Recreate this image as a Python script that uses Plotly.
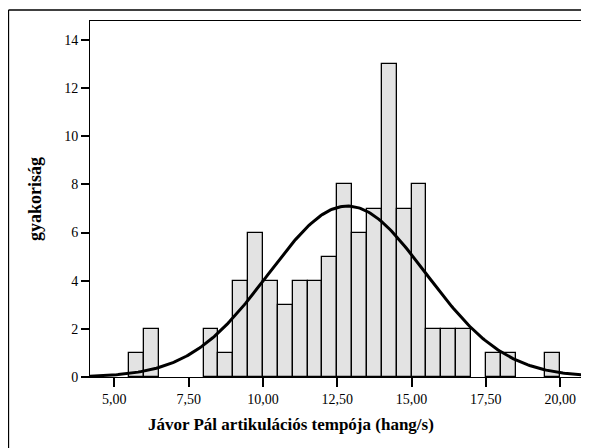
import numpy as np
import plotly.graph_objects as go

# histogram bins (left edges, width 0.5) and counts
bin_left = [5.5, 6.0, 8.0, 8.5, 9.0, 9.5, 10.0, 10.5, 11.0, 11.5, 12.0, 12.5,
            13.0, 13.5, 14.0, 14.5, 15.0, 15.5, 16.0, 16.5, 17.5, 18.0, 19.5]
counts = [1, 2, 2, 1, 4, 6, 4, 3, 4, 4, 5, 8,
          6, 7, 13, 7, 8, 2, 2, 2, 1, 1, 1]
bin_width = 0.5

# fitted normal curve parameters
fit_mean = 12.84
fit_sd = 2.64
n_total = sum(counts)

x_tickvals = [5.0, 7.5, 10.0, 12.5, 15.0, 17.5, 20.0]
x_ticktext = ["5,00", "7,50", "10,00", "12,50", "15,00", "17,50", "20,00"]
y_tickvals = [0, 2, 4, 6, 8, 10, 12, 14]

x_range = [4.18, 20.87]
y_range = [0, 14.79]

centers = [b + bin_width / 2 for b in bin_left]

xc = np.linspace(x_range[0], x_range[1], 300)
yc = n_total * bin_width / (fit_sd * np.sqrt(2 * np.pi)) * np.exp(-0.5 * ((xc - fit_mean) / fit_sd) ** 2)

fig = go.Figure()
fig.add_trace(go.Bar(x=centers, y=counts, width=bin_width,
                     marker=dict(color="#e3e3e3", line=dict(color="black", width=1.3)),
                     showlegend=False, hoverinfo="skip"))
fig.add_trace(go.Scatter(x=xc, y=yc, mode="lines", line=dict(color="black", width=3),
                         showlegend=False, hoverinfo="skip", cliponaxis=False))

serif = "Liberation Serif, Times New Roman, serif"

fig.update_xaxes(range=x_range, tickvals=x_tickvals, ticktext=x_ticktext,
                 ticks="outside", ticklen=9, tickwidth=1.5, tickcolor="black",
                 showline=True, linecolor="black", linewidth=1, mirror=True,
                 showgrid=False, zeroline=False,
                 tickfont=dict(family=serif, size=14, color="black"))
fig.update_yaxes(range=y_range, tickvals=y_tickvals,
                 ticks="outside", ticklen=8, tickwidth=1.5, tickcolor="black",
                 showline=True, linecolor="black", linewidth=1, mirror=True,
                 showgrid=False, zeroline=False,
                 tickfont=dict(family=serif, size=14, color="black"),
                 title=dict(text="<b>gyakoriság</b>",
                            font=dict(family=serif, size=18, color="black"), standoff=17))

# x title is centred on the whole picture, not on the plot area
fig.add_annotation(text="<b>Jávor Pál artikulációs tempója (hang/s)</b>",
                   xref="paper", yref="paper", x=0.405, y=-0.1348,
                   xanchor="center", yanchor="middle", showarrow=False,
                   font=dict(family=serif, size=17, color="black"))

# outer frame (top and left edges visible)
fig.add_shape(type="line", xref="paper", yref="paper", x0=-0.1643, y0=-0.25, x1=-0.1643, y1=1.0309,
              line=dict(color="black", width=1.3))
fig.add_shape(type="line", xref="paper", yref="paper", x0=-0.1643, y0=1.0309, x1=1.01, y1=1.0309,
              line=dict(color="black", width=1.3))

# page body has an 8px margin, so the figure is shrunk to fit the window
fig.update_layout(width=581, height=440, margin=dict(l=82, r=3, t=13, b=71),
                  plot_bgcolor="white", paper_bgcolor="white", bargap=0)

fig.write_html("out.html")
